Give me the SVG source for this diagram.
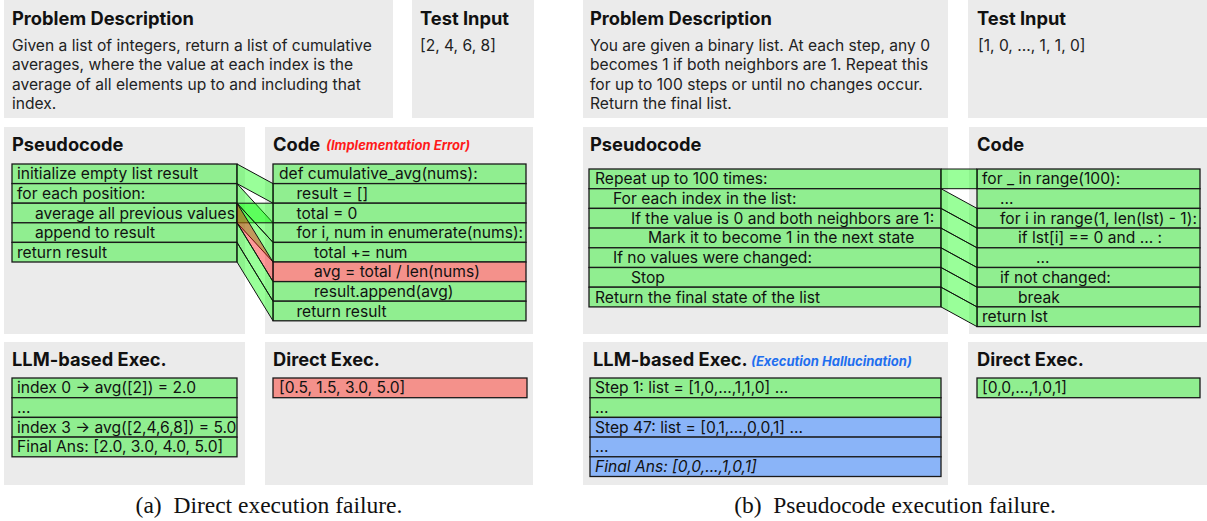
<svg xmlns="http://www.w3.org/2000/svg" width="1207" height="521" viewBox="0 0 1207 521">
  <style>
    .panel { fill: #ebebeb; }
    .title { font-family: Inter, "Noto Sans", sans-serif; font-weight: 700; font-size: 18.3px; fill: #111; }
    .body { font-family: Inter, "Noto Sans", sans-serif; font-size: 15.6px; fill: #222; }
    .row { font-family: Inter, "Noto Sans", sans-serif; font-size: 15.6px; fill: #111; }
    .g { fill: #90ee90; stroke: #1a1a1a; stroke-width: 1.3; }
    .r { fill: #f4918b; stroke: #1a1a1a; stroke-width: 1.3; }
    .b { fill: #8ab4f8; stroke: #1a1a1a; stroke-width: 1.3; }
    .tag { font-family: Inter, "Noto Sans", sans-serif; font-weight: 700; font-style: italic; font-size: 13px; }
    .band { fill: #00ff00; fill-opacity: 0.4; stroke: #111; stroke-width: 1; }
    .bandr { fill: #ff0000; fill-opacity: 0.4; stroke: #111; stroke-width: 1; }
    .cap { font-family: "Liberation Serif", "Times New Roman", serif; font-size: 23.5px; fill: #111; }
  </style>

  <!-- ===================== (a) Direct execution failure ===================== -->
  <g id="a-problem">
    <rect class="panel" x="4" y="0" width="389" height="118"/>
    <text class="title" x="12" y="25">Problem Description</text>
    <text class="body" x="12" y="51">Given a list of integers, return a list of cumulative</text>
    <text class="body" x="12" y="70.3">averages, where the value at each index is the</text>
    <text class="body" x="12" y="89.6">average of all elements up to and including that</text>
    <text class="body" x="12" y="108.9">index.</text>
  </g>
  <g id="a-test-input">
    <rect class="panel" x="412" y="0" width="122" height="118"/>
    <text class="title" x="420" y="25">Test Input</text>
    <text class="body" x="420" y="51">[2, 4, 6, 8]</text>
  </g>

  <g id="a-pseudocode">
    <rect class="panel" x="4" y="127" width="241" height="207"/>
    <text class="title" x="12" y="151">Pseudocode</text>
    <rect class="g" x="12" y="164" width="225" height="19.6"/>
    <rect class="g" x="12" y="183.6" width="225" height="19.6"/>
    <rect class="g" x="12" y="203.2" width="225" height="19.6"/>
    <rect class="g" x="12" y="222.8" width="225" height="19.6"/>
    <rect class="g" x="12" y="242.4" width="225" height="19.6"/>
    <text class="row" x="17" y="179.3">initialize empty list result</text>
    <text class="row" x="17" y="198.9">for each position:</text>
    <text class="row" x="35" y="218.5">average all previous values</text>
    <text class="row" x="35" y="238.1">append to result</text>
    <text class="row" x="17" y="257.7">return result</text>
  </g>

  <g id="a-code">
    <rect class="panel" x="265" y="127" width="268" height="207"/>
    <text class="title" x="273" y="151">Code</text>
    <text class="tag" x="326" y="150" fill="#ff1a1a">(Implementation Error)</text>
    <rect class="g" x="273" y="164" width="253" height="19.6"/>
    <rect class="g" x="273" y="183.6" width="253" height="19.6"/>
    <rect class="g" x="273" y="203.2" width="253" height="19.6"/>
    <rect class="g" x="273" y="222.8" width="253" height="19.6"/>
    <rect class="g" x="273" y="242.4" width="253" height="19.6"/>
    <rect class="r" x="273" y="262" width="253" height="19.6"/>
    <rect class="g" x="273" y="281.6" width="253" height="19.6"/>
    <rect class="g" x="273" y="301.2" width="253" height="19.6"/>
    <text class="row" x="279" y="179.3">def cumulative_avg(nums):</text>
    <text class="row" x="296.5" y="198.9">result = []</text>
    <text class="row" x="296.5" y="218.5">total = 0</text>
    <text class="row" x="296.5" y="238.1">for i, num in enumerate(nums):</text>
    <text class="row" x="314" y="257.7">total += num</text>
    <text class="row" x="314" y="277.3">avg = total / len(nums)</text>
    <text class="row" x="314" y="296.9">result.append(avg)</text>
    <text class="row" x="296.5" y="316.5">return result</text>
  </g>

  <g id="a-connectors">
    <polygon class="band" points="237,164 273,183.6 273,203.2 237,183.6"/>
    <polygon class="band" points="237,183.6 273,222.8 273,242.4 237,203.2"/>
    <polygon class="band" points="237,203.2 273,203.2 273,222.8 237,222.8"/>
    <polygon class="band" points="237,203.2 273,242.4 273,262 237,222.8"/>
    <polygon class="bandr" points="237,203.2 273,262 273,281.6 237,222.8"/>
    <polygon class="band" points="237,222.8 273,281.6 273,301.2 237,242.4"/>
    <polygon class="band" points="237,242.4 273,301.2 273,320.8 237,262"/>
  </g>

  <g id="a-llm-exec">
    <rect class="panel" x="4" y="342" width="241" height="143"/>
    <text class="title" x="12" y="366">LLM-based Exec.</text>
    <rect class="g" x="12" y="378" width="225" height="19.7"/>
    <rect class="g" x="12" y="397.7" width="225" height="19.7"/>
    <rect class="g" x="12" y="417.4" width="225" height="19.7"/>
    <rect class="g" x="12" y="437.1" width="225" height="19.7"/>
    <text class="row" x="17" y="393.3">index 0 → avg([2]) = 2.0</text>
    <text class="row" x="17" y="413">...</text>
    <text class="row" x="17" y="432.7">index 3 → avg([2,4,6,8]) = 5.0</text>
    <text class="row" x="17" y="452.4">Final Ans: [2.0, 3.0, 4.0, 5.0]</text>
  </g>

  <g id="a-direct-exec">
    <rect class="panel" x="265" y="342" width="268" height="143"/>
    <text class="title" x="273" y="366">Direct Exec.</text>
    <rect class="r" x="273" y="378" width="254" height="19.7"/>
    <text class="row" x="279" y="393.3">[0.5, 1.5, 3.0, 5.0]</text>
  </g>

  <text id="caption-a" class="cap" x="269" y="513" text-anchor="middle">(a)&#160; Direct execution failure.</text>

  <!-- ===================== (b) Pseudocode execution failure ===================== -->
  <g id="b-problem">
    <rect class="panel" x="583" y="0" width="365" height="118"/>
    <text class="title" x="590" y="25">Problem Description</text>
    <text class="body" x="590" y="51">You are given a binary list. At each step, any 0</text>
    <text class="body" x="590" y="70.3">becomes 1 if both neighbors are 1. Repeat this</text>
    <text class="body" x="590" y="89.6">for up to 100 steps or until no changes occur.</text>
    <text class="body" x="590" y="108.9">Return the final list.</text>
  </g>
  <g id="b-test-input">
    <rect class="panel" x="968" y="0" width="239" height="118"/>
    <text class="title" x="977" y="25">Test Input</text>
    <text class="body" x="978" y="51">[1, 0, ..., 1, 1, 0]</text>
  </g>

  <g id="b-pseudocode">
    <rect class="panel" x="583" y="127" width="365" height="207"/>
    <text class="title" x="590" y="151">Pseudocode</text>
    <rect class="g" x="589" y="169" width="352" height="19.7"/>
    <rect class="g" x="589" y="188.7" width="352" height="19.7"/>
    <rect class="g" x="589" y="208.4" width="352" height="19.7"/>
    <rect class="g" x="589" y="228.1" width="352" height="19.7"/>
    <rect class="g" x="589" y="247.8" width="352" height="19.7"/>
    <rect class="g" x="589" y="267.5" width="352" height="19.7"/>
    <rect class="g" x="589" y="287.2" width="352" height="19.7"/>
    <text class="row" x="595" y="184.3">Repeat up to 100 times:</text>
    <text class="row" x="613" y="204">For each index in the list:</text>
    <text class="row" x="631" y="223.7">If the value is 0 and both neighbors are 1:</text>
    <text class="row" x="648" y="243.4">Mark it to become 1 in the next state</text>
    <text class="row" x="613" y="263.1">If no values were changed:</text>
    <text class="row" x="631" y="282.8">Stop</text>
    <text class="row" x="595" y="302.5">Return the final state of the list</text>
  </g>

  <g id="b-code">
    <rect class="panel" x="969" y="127" width="238" height="207"/>
    <text class="title" x="977" y="151">Code</text>
    <rect class="g" x="977" y="169" width="223" height="19.7"/>
    <rect class="g" x="977" y="188.7" width="223" height="19.7"/>
    <rect class="g" x="977" y="208.4" width="223" height="19.7"/>
    <rect class="g" x="977" y="228.1" width="223" height="19.7"/>
    <rect class="g" x="977" y="247.8" width="223" height="19.7"/>
    <rect class="g" x="977" y="267.5" width="223" height="19.7"/>
    <rect class="g" x="977" y="287.2" width="223" height="19.7"/>
    <rect class="g" x="977" y="306.9" width="223" height="19.7"/>
    <text class="row" x="982" y="184.3">for _ in range(100):</text>
    <text class="row" x="1000" y="204">...</text>
    <text class="row" x="1000" y="223.7">for i in range(1, len(lst) - 1):</text>
    <text class="row" x="1018" y="243.4">if lst[i] == 0 and ... :</text>
    <text class="row" x="1036" y="263.1">...</text>
    <text class="row" x="1000" y="282.8">if not changed:</text>
    <text class="row" x="1018" y="302.5">break</text>
    <text class="row" x="982" y="322.2">return lst</text>
  </g>

  <g id="b-connectors">
    <polygon class="band" points="941,169 977,169 977,188.7 941,188.7"/>
    <polygon class="band" points="941,188.7 977,208.4 977,228.1 941,208.4"/>
    <polygon class="band" points="941,208.4 977,228.1 977,247.8 941,228.1"/>
    <polygon class="band" points="941,228.1 977,247.8 977,267.5 941,247.8"/>
    <polygon class="band" points="941,247.8 977,267.5 977,287.2 941,267.5"/>
    <polygon class="band" points="941,267.5 977,287.2 977,306.9 941,287.2"/>
    <polygon class="band" points="941,287.2 977,306.9 977,326.6 941,306.9"/>
  </g>

  <g id="b-llm-exec">
    <rect class="panel" x="583" y="342" width="365" height="143"/>
    <text class="title" x="593" y="366">LLM-based Exec.</text>
    <text class="tag" x="751" y="366" fill="#1f6fef">(Execution Hallucination)</text>
    <rect class="g" x="590" y="378" width="351" height="19.7"/>
    <rect class="g" x="590" y="397.7" width="351" height="19.7"/>
    <rect class="b" x="590" y="417.4" width="351" height="19.7"/>
    <rect class="b" x="590" y="437.1" width="351" height="19.7"/>
    <rect class="b" x="590" y="456.8" width="351" height="19.7"/>
    <text class="row" x="595" y="393.3">Step 1: list = [1,0,...,1,1,0] ...</text>
    <text class="row" x="595" y="413">...</text>
    <text class="row" x="595" y="432.7">Step 47: list = [0,1,...,0,0,1] ...</text>
    <text class="row" x="595" y="452.4">...</text>
    <text class="row" x="595" y="472.1" font-style="italic">Final Ans: [0,0,...,1,0,1]</text>
  </g>

  <g id="b-direct-exec">
    <rect class="panel" x="968" y="342" width="239" height="143"/>
    <text class="title" x="977" y="366">Direct Exec.</text>
    <rect class="g" x="977" y="378" width="223" height="19.7"/>
    <text class="row" x="982" y="393.3">[0,0,...,1,0,1]</text>
  </g>

  <text id="caption-b" class="cap" x="895" y="513" text-anchor="middle">(b)&#160; Pseudocode execution failure.</text>
</svg>
